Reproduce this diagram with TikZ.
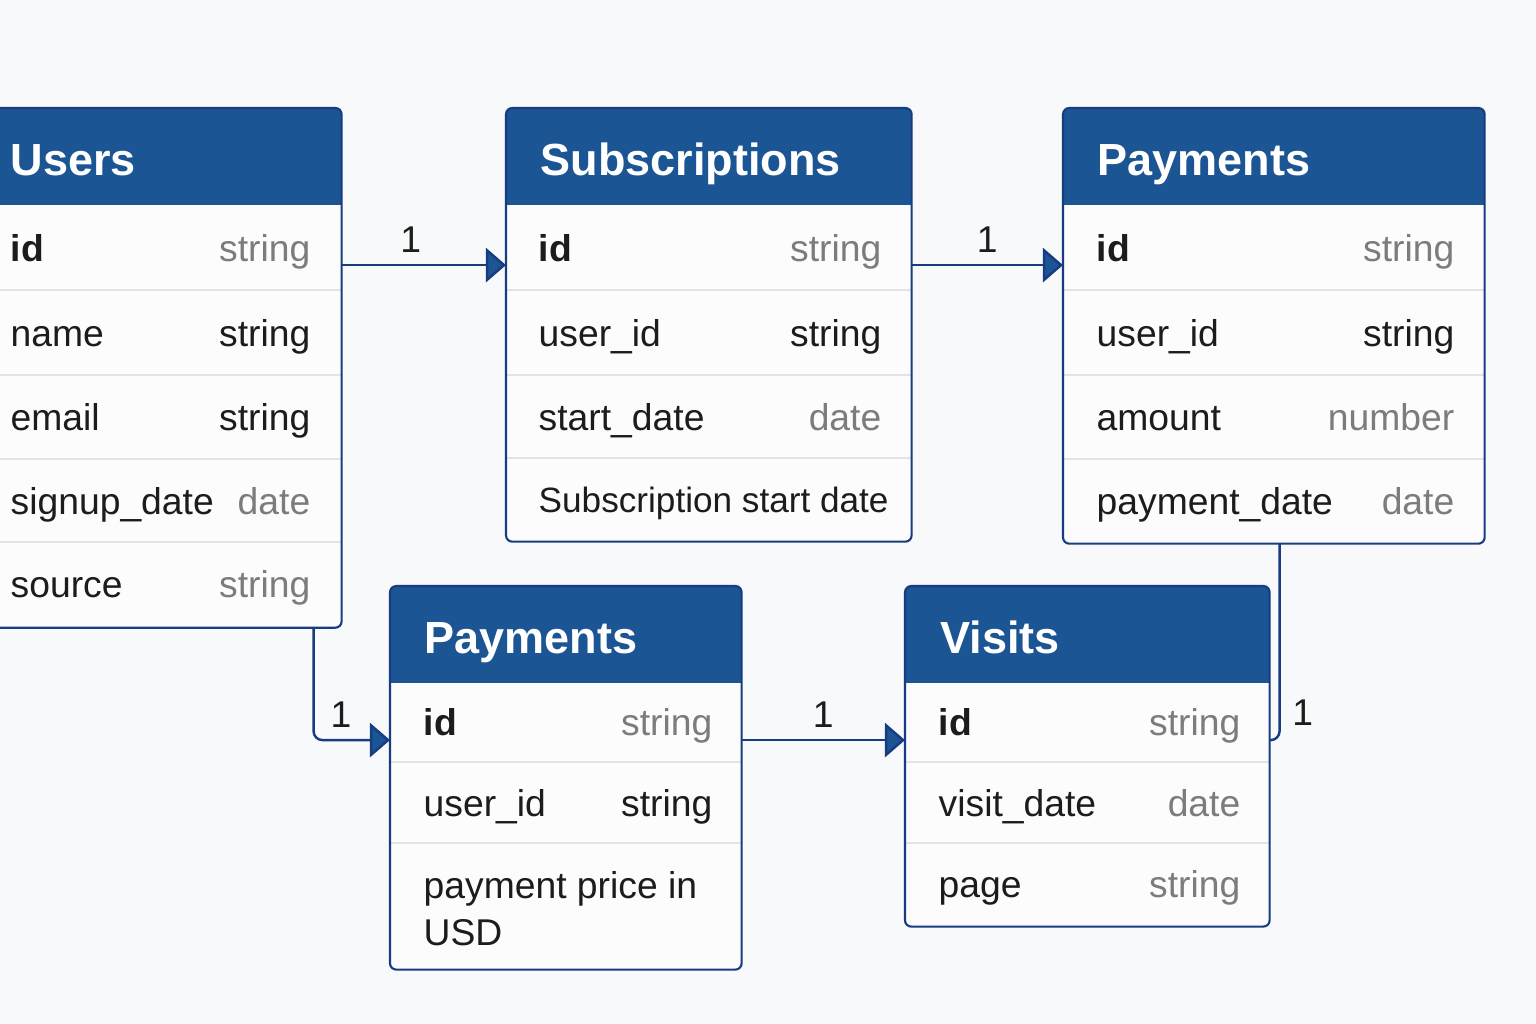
\documentclass[tikz,border=0pt]{standalone}
\usepackage{fontspec}
\setmainfont{Liberation Sans}
\usepackage{tikz}
\usetikzlibrary{arrows.meta}

\definecolor{bg}{HTML}{F8F9FA}
\definecolor{rowbg}{HTML}{FCFCFC}
\definecolor{hdblue}{HTML}{1B5593}
\definecolor{navy}{HTML}{173C82}
\definecolor{tipblue}{HTML}{1B5593}
\definecolor{sepgray}{HTML}{E3E3E3}
\definecolor{ink}{HTML}{1C1C1C}
\definecolor{typgray}{HTML}{7C7C7C}

\begin{document}
\begin{tikzpicture}[
    x=0.01cm, y=-0.01cm,
    tbl/.style={fill=rowbg, inner sep=0pt, anchor=north west},
    ttl/.style={text=white, font=\fontsize{12.8}{15}\selectfont\bfseries, inner sep=0pt, anchor=base west},
    fld/.style={text=ink, font=\fontsize{10.6}{13}\selectfont, inner sep=0pt, anchor=base west},
    typ/.style={text=#1, font=\fontsize{10.6}{13}\selectfont, inner sep=0pt, anchor=base east},
    typ/.default=typgray,
    rowline/.style={draw=sepgray, line width=0.6pt},
    frame/.style={draw=navy, line width=0.6pt, rounded corners=1.8pt},
    arr/.style={navy, line width=0.7pt, -{Triangle[length=5.7pt, width=9.7pt, fill=tipblue]}},
    lnk/.style={navy, line width=0.7pt},
    lbl/.style={text=ink, font=\fontsize{10.6}{13}\selectfont}
]
\useasboundingbox (0,0) rectangle (1536,1024);
\clip (0,0) rectangle (1536,1024);
\fill[bg] (0,0) rectangle (1536,1024);

% tables
\node[tbl, minimum width=3.63cm, minimum height=5.18cm] (users) at (-23,108) {};
\node[tbl, minimum width=4.04cm, minimum height=4.32cm] (subs) at (506,108) {};
\node[tbl, minimum width=4.20cm, minimum height=4.34cm] (pay) at (1063,108) {};
\node[tbl, minimum width=3.50cm, minimum height=3.82cm] (pay2) at (390,586) {};
\node[tbl, minimum width=3.63cm, minimum height=3.39cm] (visits) at (905,586) {};

% row lines
\foreach \y in {290,375,459,542}
  \draw[rowline] (users.west |- 0,\y) -- (users.east |- 0,\y);
\foreach \y in {290,375,458}
  \draw[rowline] (subs.west |- 0,\y) -- (subs.east |- 0,\y);
\foreach \y in {290,375,459}
  \draw[rowline] (pay.west |- 0,\y) -- (pay.east |- 0,\y);
\foreach \y in {762,843} {
  \draw[rowline] (pay2.west |- 0,\y) -- (pay2.east |- 0,\y);
  \draw[rowline] (visits.west |- 0,\y) -- (visits.east |- 0,\y);
}

% headers and frames
\foreach \t in {users,subs,pay,pay2,visits} {
  \begin{scope}
    \clip[rounded corners=1.8pt] (\t.north west) rectangle (\t.south east);
    \fill[hdblue] (\t.north west) rectangle ([yshift=-0.97cm]\t.north east);
  \end{scope}
  \draw[frame] (\t.north west) rectangle (\t.south east);
}

% Users
\node[ttl] (usersh) at (10,175) {Users};
\node[fld] (u1) at (10,261) {\textbf{id}};
\node[typ] (u1t) at (311,261) {string};
\node[fld] (u2) at (10,346) {name};
\node[typ=ink] (u2t) at (311,346) {string};
\node[fld] (u3) at (10,430) {email};
\node[typ=ink] (u3t) at (311,430) {string};
\node[fld] (u4) at (10,514) {signup\_date};
\node[typ] (u4t) at (311,514) {date};
\node[fld] (u5) at (10,597) {source};
\node[typ] (u5t) at (311,597) {string};

% Subscriptions
\node[ttl] (subsh) at (540,175) {Subscriptions};
\node[fld] (s1) at (538,261) {\textbf{id}};
\node[typ] (s1t) at (882,261) {string};
\node[fld] (s2) at (538,346) {user\_id};
\node[typ=ink] (s2t) at (882,346) {string};
\node[fld] (s3) at (538,430) {start\_date};
\node[typ] (s3t) at (882,430) {date};
\node[fld, font=\fontsize{10}{12}\selectfont] (s4) at (538,512) {Subscription start date};

% Payments
\node[ttl] (payh) at (1097,175) {Payments};
\node[fld] (p1) at (1096,261) {\textbf{id}};
\node[typ] (p1t) at (1455,261) {string};
\node[fld] (p2) at (1096,346) {user\_id};
\node[typ=ink] (p2t) at (1455,346) {string};
\node[fld] (p3) at (1096,430) {amount};
\node[typ] (p3t) at (1455,430) {number};
\node[fld] (p4) at (1096,514) {payment\_date};
\node[typ] (p4t) at (1455,514) {date};

% Payments (lower)
\node[ttl] (pay2h) at (424,653) {Payments};
\node[fld] (q1) at (423,735) {\textbf{id}};
\node[typ] (q1t) at (713,735) {string};
\node[fld] (q2) at (423,816) {user\_id};
\node[typ=ink] (q2t) at (713,816) {string};
\node[fld] (q3) at (423,898) {payment price in};
\node[fld] (q3b) at (423,945) {USD};

% Visits
\node[ttl] (visitsh) at (940,653) {Visits};
\node[fld] (v1) at (938,735) {\textbf{id}};
\node[typ] (v1t) at (1241,735) {string};
\node[fld] (v2) at (938,816) {visit\_date};
\node[typ] (v2t) at (1241,816) {date};
\node[fld] (v3) at (938,897) {page};
\node[typ] (v3t) at (1241,897) {string};

% links
\draw[arr] ([yshift=-1.57cm]users.north east) -- node[lbl, above, pos=0.42] (l1) {1} ([yshift=-1.57cm]subs.north west);
\draw[arr] ([yshift=-1.57cm]subs.north east) -- node[lbl, above] (l2) {1} ([yshift=-1.57cm]pay.north west);
\draw[arr, rounded corners=2.5pt] ([xshift=-0.28cm]users.south east) |- node[lbl, above, pos=0.68] (l3) {1} ([yshift=-1.54cm]pay2.north west);
\draw[arr] ([yshift=-1.54cm]pay2.north east) -- node[lbl, above] (l4) {1} ([yshift=-1.54cm]visits.north west);
\draw[lnk, rounded corners=2.5pt] ([xshift=-2.05cm]pay.south east) |- node[lbl, right, pos=0.43] (l5) {1} ([yshift=-1.54cm]visits.north east);

\end{tikzpicture}
\end{document}
